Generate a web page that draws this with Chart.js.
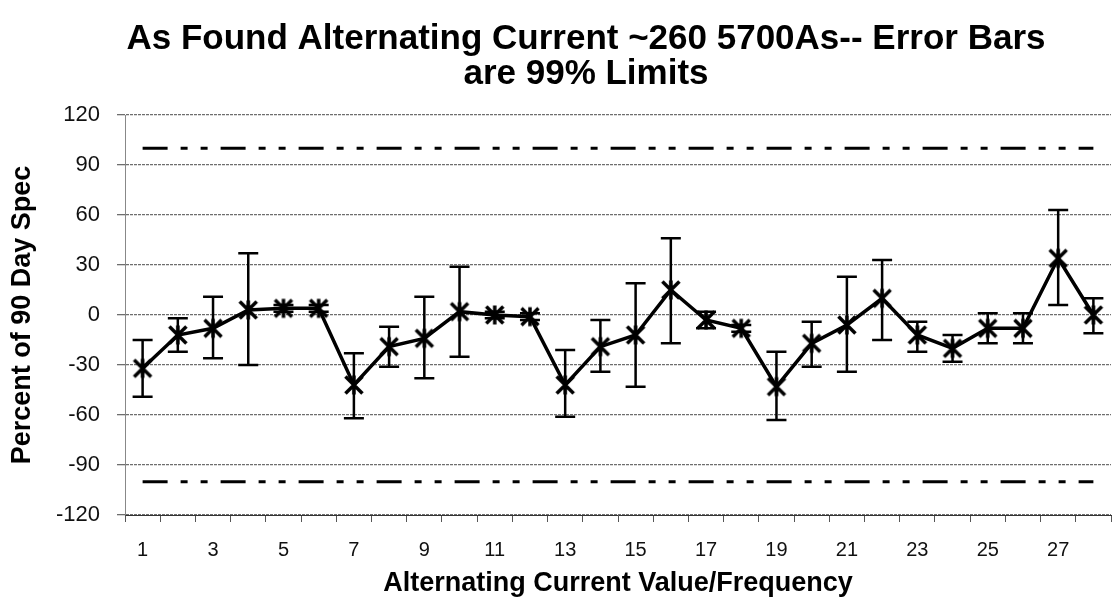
<!DOCTYPE html>
<html>
<head>
<meta charset="utf-8">
<script src="https://cdn.jsdelivr.net/npm/chart.js@4.4.1/dist/chart.umd.min.js"></script>
<style>
  html, body { margin: 0; padding: 0; background: #fff; overflow: hidden; }
  canvas { display: block; }
</style>
</head>
<body>
<canvas id="chart" width="1114" height="609"></canvas>
<script>
const categories = ['1', '2', '3', '4', '5', '6', '7', '8', '9', '10', '11', '12', '13', '14',
  '15', '16', '17', '18', '19', '20', '21', '22', '23', '24', '25', '26', '27', '28']

// percent of 90 day spec, as found
const percentOfSpec = [-32, -12, -8, 3, 4, 4, -42, -19, -14, 2, 0, -1, -42, -19,
  -12, 15, -3, -8, -43, -17, -6, 10, -12, -20, -8, -8, 34, 0]

// 99% limits (error bars)
const upper99 = [-15, -2, 11, 37, 6, 6, -23, -7, 11, 29, 2, 1, -21, -3,
  19, 46, 2, -6, -22, -4, 23, 33, -4, -12, 1, 1, 63, 10]
const lower99 = [-49, -22, -26, -30, 2, 2, -62, -31, -38, -25, -2, -3, -61, -34,
  -43, -17, -8, -10, -63, -31, -34, -15, -22, -28, -17, -17, 6, -11]

// spec limit lines
const specX = ['1', '28']
const specUpper = [100, 100]
const specLower = [-100, -100]

const yTicks = [-120, -90, -60, -30, 0, 30, 60, 90, 120]

const titleLines = ['As Found Alternating Current ~260 5700As-- Error Bars', 'are 99% Limits']

Chart.defaults.font.family = '"Liberation Sans", Arial, sans-serif'

// excel style star: X plus a vertical bar
function starMarker(size, lw) {
  let c = document.createElement('canvas')
  c.width = size
  c.height = size
  let g = c.getContext('2d')
  let m = lw
  g.strokeStyle = '#000'
  g.lineWidth = lw
  g.beginPath()
  g.moveTo(m, m); g.lineTo(size - m, size - m)
  g.moveTo(size - m, m); g.lineTo(m, size - m)
  g.moveTo(size / 2, m - 1); g.lineTo(size / 2, size - m + 1)
  g.stroke()
  return c
}

const errorBars = {
  id: 'errorBars',
  beforeDatasetsDraw(chart) {
    const { ctx, scales: { x, y } } = chart
    ctx.save()
    ctx.strokeStyle = '#000'
    ctx.lineWidth = 2.5
    for (let i = 0; i < categories.length; i++) {
      let px = x.getPixelForValue(i)
      let top = y.getPixelForValue(upper99[i])
      let bot = y.getPixelForValue(lower99[i])
      ctx.beginPath()
      ctx.moveTo(px, top)
      ctx.lineTo(px, bot)
      ctx.moveTo(px - 10, top)
      ctx.lineTo(px + 10, top)
      ctx.moveTo(px - 10, bot)
      ctx.lineTo(px + 10, bot)
      ctx.stroke()
    }
    ctx.restore()
  },
}

// the original title sits a bit right of the canvas centre, so draw it by hand
const chartTitle = {
  id: 'chartTitle',
  afterDraw(chart) {
    const ctx = chart.ctx
    ctx.save()
    ctx.font = 'bold 35px "Liberation Sans", Arial, sans-serif'
    ctx.fillStyle = '#000'
    ctx.textAlign = 'center'
    ctx.textBaseline = 'middle'
    titleLines.forEach((t, i) => ctx.fillText(t, 586, 39 + i * 35))
    ctx.restore()
  },
}

const limitStyle = {
  borderColor: '#000',
  borderWidth: 3,
  borderDash: [25, 13, 7, 13, 7, 13],
  pointRadius: 0,
  fill: false,
}

const config = {
  type: 'line',
  data: {
    labels: categories,
    datasets: [
      {
        data: percentOfSpec,
        borderColor: '#000',
        borderWidth: 3.5,
        pointStyle: starMarker(24, 3.5),
        pointRadius: 12,
        tension: 0,
      },
      Object.assign({ data: specX.map((c, i) => ({ x: c, y: specUpper[i] })) }, limitStyle),
      Object.assign({ data: specX.map((c, i) => ({ x: c, y: specLower[i] })) }, limitStyle),
    ],
  },
  options: {
    responsive: false,
    animation: false,
    layout: { autoPadding: false, padding: { left: 0, right: 3, top: 115, bottom: 0 } },
    plugins: {
      legend: { display: false },
      tooltip: { enabled: false },
      title: { display: false },
    },
    scales: {
      x: {
        type: 'category',
        offset: true,
        grid: {
          offset: true,
          drawOnChartArea: false,
          tickLength: 7,
          color: '#555',
        },
        border: { color: '#333', width: 1 },
        ticks: {
          autoSkip: false,
          maxRotation: 0,
          padding: 16,
          color: '#111',
          font: { size: 20 },
          callback: (v, i) => (i % 2 === 0 ? categories[i] : ''),
        },
        title: {
          display: true,
          text: 'Alternating Current Value/Frequency',
          color: '#000',
          font: { size: 27, weight: 'bold' },
          padding: { top: 0, bottom: 9 },
        },
        afterFit: (s) => {
          s.height = 94
          s.paddingLeft = 0
          s.paddingRight = 0
        },
      },
      y: {
        min: yTicks[0],
        max: yTicks[yTicks.length - 1],
        afterBuildTicks: (s) => { s.ticks = yTicks.map((v) => ({ value: v })) },
        grid: { color: '#6e6e6e', lineWidth: 1.3, tickLength: 8 },
        border: { color: '#888', width: 1, dash: [3, 1] },
        ticks: { padding: 17, color: '#111', font: { size: 22 } },
        title: {
          display: true,
          text: 'Percent of 90 Day Spec',
          color: '#000',
          font: { size: 27, weight: 'bold' },
          padding: { top: 6, bottom: 0 },
        },
        afterFit: (s) => {
          s.width = 125
          s.paddingTop = 0
          s.paddingBottom = 0
        },
      },
    },
  },
  plugins: [errorBars, chartTitle],
}

const chart = new Chart(document.getElementById('chart'), config)
</script>
</body>
</html>
